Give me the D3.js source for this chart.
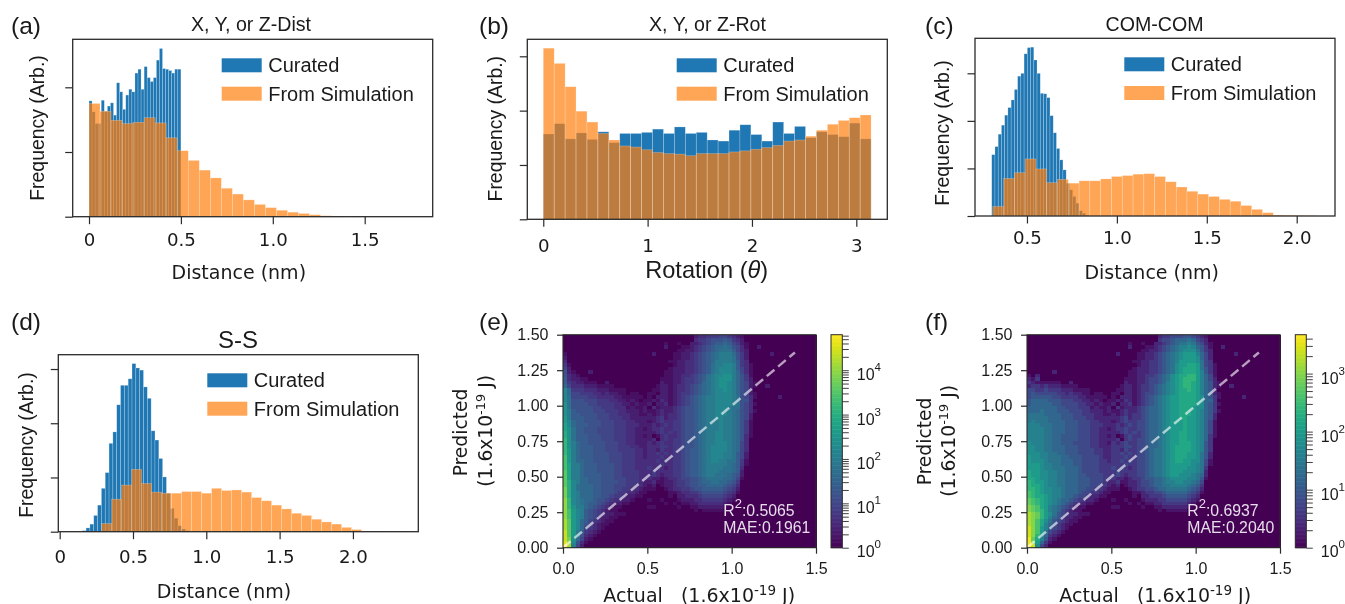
<!DOCTYPE html>
<html>
<head>
<meta charset="utf-8">
<script src="https://cdn.jsdelivr.net/npm/d3@7"></script>
<style>
html, body { margin: 0; padding: 0; background: #fff; }
svg { display: block; filter: blur(0.45px); }
text { fill: #1a1a1a; font-family: "Liberation Sans", sans-serif; white-space: pre; }
.dv { font-family: "DejaVu Sans", sans-serif; }
</style>
</head>
<body>
<svg id="fig" width="1345" height="604"></svg>
<script>
// hist values (frequency is arbitrary, one unit = one y tick)
const aCurated = [1.79,1.62,1.44,1.44,1.80,1.63,1.71,1.76,1.57,2.07,1.93,1.66,1.88,1.97,1.93,2.22,2.28,1.97,2.32,2.15,2.09,2.15,2.42,2.60,2.29,2.28,2.26,2.22,2.28,2.28];
const aSim = [1.75,1.63,1.49,1.44,1.46,1.53,1.45,1.22,1.02,0.87,0.72,0.60,0.44,0.35,0.26,0.19,0.14,0.10,0.07,0.05,0.03,0.015,0.01,0.005,0.003,0.002,0.001,0.001,0.001,0.001];
const bCurated = [1.57,1.76,1.48,1.59,1.47,1.61,1.41,1.58,1.58,1.60,1.66,1.58,1.70,1.58,1.60,1.46,1.44,1.64,1.74,1.56,1.44,1.79,1.58,1.71,1.50,1.61,1.56,1.52,1.77,1.48];
const bSim = [3.15,2.87,2.44,1.99,1.79,1.58,1.46,1.35,1.33,1.28,1.23,1.21,1.20,1.17,1.21,1.21,1.21,1.24,1.26,1.29,1.32,1.36,1.44,1.46,1.53,1.64,1.75,1.82,1.87,1.92];
const cCurated = [1.29,1.46,1.72,1.91,2.12,2.28,2.44,2.66,2.94,3.00,3.41,3.54,3.55,3.28,3.00,2.58,2.57,2.49,2.11,1.75,1.42,1.18,0.97,0.69,0.55,0.41,0.27,0.11,0.06,0.02];
const cSim = [0.20,0.79,0.91,1.20,0.99,0.70,0.77,0.69,0.74,0.74,0.78,0.83,0.85,0.88,0.89,0.83,0.72,0.61,0.52,0.46,0.41,0.35,0.31,0.22,0.14,0.07,0.02,0.015,0.01,0.005];
const dCurated = [0.02,0.07,0.14,0.30,0.49,0.80,1.09,1.63,1.84,2.34,2.70,2.70,2.82,3.10,3.02,2.98,2.67,2.46,1.86,1.69,1.35,1.01,0.71,0.43,0.25,0.11,0.05,0.02,0.006,0.003];
const dSim = [0.15,0.60,0.86,1.15,0.89,0.73,0.71,0.71,0.74,0.74,0.71,0.80,0.76,0.77,0.73,0.63,0.57,0.49,0.42,0.34,0.30,0.23,0.18,0.14,0.08,0.04,0.012,0.006,0.003,0.002];

// 2d hist cells: one base36 char per bin, count = 10^(level/5). top row first.
// left part is bins 0-19 of each row, the right part (bins 20-59) is the same in (e) and (f)
const heatLeftE = ["","","","","",
"1","2","3","41","52","6210002000","6321","73221100","7432211100 2","8533322211 1100",
"b844433322 2111100","b855444332 3221101100","b955554433 3322111110","b966655544 4332212101","c966665544 4433221211",
"c966666554 4433312112","ca76666555 4443322212","ca77666655 5443332211","da77766655 5444332222","db87766665 5544433222",
"eb87776665 5544433322","ec97766655 5544433221","fc97766655 5544433222","fc97776665 5544433221","gc97776665 5544433222",
"gca8776666 5554433222","gca8777666 5554443322","gda8777666 5554444332","gda8777666 6555444332","hda8777666 6555444332",
"hda8877666 6555444333","heaa877766 6655444333","heaa877766 6655444333","ieaa877766 6655444433","ieaa877776 6655444433",
"ieaa887776 6655544433","ifba887776 6665544432","ifb9888776 6655544332","jfb9888776 6655443321","jfba888776 6654433211",
"jfba888776 6544322110","kgba988766 5433221000","kgba987765 4322110000","kgcaa87654 3211000000","khdba76543 2110000000",
"khdba76543 2211100000","khdba76532 2110000000","lidb875432 1100000000","lidb865321 1","lidb854321",
"mida743210","mida632100","mjc8521","nkb6310","ola52"];
const heatLeftF = ["","","","","","","","","","",
"0000002000","102","213","3211111100 2","2332322211 1100",
"4433433322 2111100","4544444332 3221101100","4555554433 3322111110","5666655544 4332212101","5666665544 4433221211",
"6666666554 4433312112","6667666555 4443322212","7777666655 5443332211","7777766655 5444332222","7877766665 5544433222",
"8887776665 5544433322","8888776665 5544433221","8888776665 5544433222","8888776655 5544433221","8888776655 5544433222",
"9888776655 5444433221","9988776665 5544433222","9988776665 5544443322","9998877665 5544443322","a998877766 5554444322",
"a999877766 6554444332","aaa9887766 6554444333","aaa9887776 6654444333","baa9988776 6654444333","baa9988776 6655444433",
"bba9988776 6655544433","cbaa988776 6655544432","cbba988776 6655544332","ccba998876 6655443321","dcba998876 6654433211",
"dcbba98876 6544322110","edcba98766 5433221000","edcba98765 4322110000","fedba87654 3211000000","fedca87643 2110000000",
"gfeca97543 2211100000","gfeca86532 2110000000","gfdb975432 1100000000","gfdb865321 1","hfda864321",
"hfda743210","hfc9632100","ieb8521","ifa6310","ih942"];
const heatRight = [
"0000000000 0233444554 321","0000000000 0344566676 432","0000100100 2234567787 5421","0000200011 2345678898 6531002","0000000112 2345678999 7532",
"0200001122 3456789aaa 8642000002","0000001122 3456789aaa 9642","0000011223 345678aaaa 9743","0000001223 345679aabb a7431","0000012223 345679abbb a7531",
"0000112223 345679abbb a8531","0000112233 45679abbcc a8641","0001112234 45679abccc a8642","0002112234 45689abccb a86521","0012212334 56789abccb a865210020",
"0112212334 56789abbcb a8652","1102212344 56789abbbb a86521","1022212345 6789aabbbb a96531 0000020000","1213212345 6789aabbbb a9663","2022312345 6789aabbbb a96531",
"0312223456 6789aabbba 99653","1123223456 6789aabbba 986531","2123233456 6789aabbba 98652","2234233456 6789aabbaa 98652","1234334456 6789aaabaa 98641",
"2323434456 6789aaabaa 98641","2334334456 6789aaabaa 98641","2234343456 6789aabbaa 98641","2013433456 6789aabbaa 98631","2303434456 6789aabbaa 9863",
"3234334456 6789aabbba 9853","3334434456 6789abbbba 9853","3324334456 7789abbbba 9853","3343434456 7789abbbaa 9752","3334334456 7789abbbaa 9752",
"3343434456 7789abbaa9 9741","3334334456 7789aaaaa9 8741","4343234456 7789aaaa99 873","3433334456 7789aaa999 872","3432334456 7789aa9998 762",
"3221233455 6678999988 751","2311223445 6678899887 64","1201223445 6677888876 53","1100123344 5667777765 42","0000011233 4456666654 31",
"0000010223 3345555543 2","1001000122 2334444432 1","0000101011 2233333321","1100000100 1122222210","0000000000 0101111100",
"","","","","","","","","",""];

const histX = [
  {name: "a", xDomain: [-0.0887, 1.870], xTicks: [0, 0.5, 1, 1.5], xLabels: ["0", "0.5", "1.0", "1.5"], yTop: 2.742, yTicks: [0, 1, 2]},
  {name: "b", xDomain: [-0.153, 3.297], xTicks: [0, 1, 2, 3], xLabels: ["0", "1", "2", "3"], yTop: 3.313, yTicks: [0, 1, 2, 3]},
  {name: "c", xDomain: [0.211, 2.213], xTicks: [0.5, 1, 1.5, 2], xLabels: ["0.5", "1.0", "1.5", "2.0"], yTop: 3.736, yTicks: [0, 1, 2, 3]},
  {name: "d", xDomain: [-0.0095, 2.446], xTicks: [0, 0.5, 1, 1.5, 2], xLabels: ["0", "0.5", "1.0", "1.5", "2.0"], yTop: 3.264, yTicks: [0, 1, 2, 3]}
];

const svg = d3.select("#fig");
const blue = "#1f77b4", orange = "#ff7f0e", axisCol = "#2a2a2a";

function addText(x, y, str, size, cls, rot) {
  const t = svg.append("text").attr("x", x).attr("y", y).style("font-size", size + "px");
  if (cls) t.attr("class", cls);
  if (rot) t.attr("transform", `rotate(-90 ${x} ${y})`).attr("text-anchor", "middle");
  if (str) t.text(str);
  return t;
}

function styleAxis(g, tickSize, labelY, fontCls, fontSize) {
  g.select(".domain").remove();
  g.selectAll("line").attr("stroke", axisCol).attr("stroke-width", 1.2);
  g.selectAll("text").attr("class", fontCls).style("font-size", fontSize + "px").style("font-family", null);
  if (labelY != null) g.selectAll("text").attr("y", labelY).attr("dy", null);
}

function drawHist(cfg, box, curated, curatedBin, sim, simBin, info) {
  const x = d3.scaleLinear().domain(cfg.xDomain).range([box.left, box.right]);
  const y = d3.scaleLinear().domain([0, cfg.yTop]).range([box.bottom, box.top]);

  const drawBars = (vals, bin, col, op) => {
    svg.append("g").selectAll("rect").data(vals).enter().append("rect")
      .attr("x", (d, i) => x(bin[0] + i * bin[1]))
      .attr("y", d => y(d))
      .attr("width", x(bin[1]) - x(0))
      .attr("height", d => y(0) - y(d))
      .attr("fill", col)
      .attr("fill-opacity", op)
      .attr("stroke", "#fff")
      .attr("stroke-opacity", 0.35)
      .attr("stroke-width", 0.6);
  };
  drawBars(curated, curatedBin, blue, 1);
  drawBars(sim, simBin, orange, 0.7);

  svg.append("rect").attr("x", box.left).attr("y", box.top)
    .attr("width", box.right - box.left).attr("height", box.bottom - box.top)
    .attr("fill", "none").attr("stroke", axisCol).attr("stroke-width", 1.3);

  const xAxis = d3.axisBottom(x).tickValues(cfg.xTicks).tickFormat((d, i) => cfg.xLabels[i]).tickSize(7.5);
  svg.append("g").attr("transform", `translate(0,${box.bottom})`).call(xAxis)
    .call(g => styleAxis(g, 7.5, info.tickY - box.bottom, "dv", 18.2));
  const yAxis = d3.axisLeft(y).tickValues(cfg.yTicks).tickFormat("").tickSize(7.5);
  svg.append("g").attr("transform", `translate(${box.left},0)`).call(yAxis)
    .call(g => styleAxis(g, 7.5, null, "dv", 10));

  // legend
  const lg = info.legend;
  [["Curated", blue, 1, lg.y1], ["From Simulation", orange, 0.7, lg.y2]].forEach(r => {
    svg.append("rect").attr("x", lg.x).attr("y", r[3] - 14).attr("width", 40).attr("height", 14)
      .attr("fill", r[1]).attr("fill-opacity", r[2]);
    addText(lg.x + 46.5, r[3], r[0], 20);
  });

  addText(info.title[0], info.title[1], info.title[2], info.title[3]).attr("text-anchor", "middle");
  addText(info.ylab[0], info.ylab[1], "Frequency (Arb.)", 19.4, null, true);
  addText(info.letter[0], info.letter[1], info.letter[2], 24.5);
}

drawHist(histX[0], {left: 72.7, right: 432.7, top: 39.3, bottom: 216.7}, aCurated, [0, 0.5 / 30], aSim, [0, 0.06], {
  tickY: 246, legend: {x: 221.7, y1: 72.3, y2: 100.7},
  title: [251, 31, "X, Y, or Z-Dist", 19.6], ylab: [44.3, 128], letter: [11, 34, "(a)"]
});
addText(238.8, 279.3, "Distance (nm)", 19, "dv").attr("text-anchor", "middle");

drawHist(histX[1], {left: 527.3, right: 887.3, top: 39.3, bottom: 219.3}, bCurated, [0, Math.PI / 30], bSim, [0, Math.PI / 30], {
  tickY: 252.3, legend: {x: 676.7, y1: 72.3, y2: 100.7},
  title: [707.5, 31, "X, Y, or Z-Rot", 19.6], ylab: [501.7, 128.7], letter: [479, 34, "(b)"]
});
const rotLab = addText(706.7, 278, "", 23.6).attr("text-anchor", "middle");
rotLab.append("tspan").text("Rotation (");
rotLab.append("tspan").style("font-style", "italic").text("θ");
rotLab.append("tspan").text(")");

drawHist(histX[2], {left: 975, right: 1335, top: 38.3, bottom: 216}, cCurated, [0.304, 0.018], cSim, [0.31, 0.06], {
  tickY: 243.5, legend: {x: 1124.3, y1: 71.3, y2: 100},
  title: [1154.5, 31, "COM-COM", 19.6], ylab: [949.3, 133], letter: [925, 34, "(c)"]
});
addText(1151.7, 279, "Distance (nm)", 19, "dv").attr("text-anchor", "middle");

drawHist(histX[3], {left: 58.3, right: 418.3, top: 354.7, bottom: 531.7}, dCurated, [0.154, 0.0261], dSim, [0.286, 0.0682], {
  tickY: 563, legend: {x: 207.3, y1: 387.3, y2: 415.7},
  title: [238, 348, "S-S", 24], ylab: [33.3, 445], letter: [11, 330, "(d)"]
});
addText(224, 598, "Distance (nm)", 19, "dv").attr("text-anchor", "middle");

function heatRows(left) {
  return left.map((row, r) => {
    const l = row.replace(/ /g, "").padEnd(20, "0");
    const rr = heatRight[r].replace(/ /g, "").padEnd(40, "0");
    return Array.from(l + rr).map(ch => parseInt(ch, 36));
  });
}

function drawHeat(left, box, maxLog, decades, info) {
  const x = d3.scaleLinear().domain([0, 1.5]).range([box.left, box.right]);
  const y = d3.scaleLinear().domain([0, 1.5]).range([box.bottom, box.top]);
  const color = d3.scaleSequentialLog(d3.interpolateViridis).domain([1, Math.pow(10, maxLog)]);
  const bin = 0.025;

  const cells = [];
  heatRows(left).forEach((row, r) => row.forEach((lv, c) => {
    cells.push({x0: c * bin, y1: 1.5 - r * bin, n: Math.pow(10, lv / 5)});
  }));
  svg.append("g").attr("shape-rendering", "crispEdges").selectAll("rect").data(cells).enter().append("rect")
    .attr("x", d => x(d.x0))
    .attr("y", d => y(d.y1))
    .attr("width", x(bin) - x(0) + 0.6)
    .attr("height", y(0) - y(bin) + 0.6)
    .attr("fill", d => color(d.n));

  // guide line y = x
  svg.append("line")
    .attr("x1", x(0)).attr("y1", y(0)).attr("x2", x(1.375)).attr("y2", y(1.375))
    .attr("stroke", "#fff").attr("stroke-opacity", 0.62).attr("stroke-width", 2.5)
    .attr("stroke-dasharray", "10,4.8");

  svg.append("rect").attr("x", box.left).attr("y", box.top)
    .attr("width", box.right - box.left).attr("height", box.bottom - box.top)
    .attr("fill", "none").attr("stroke", axisCol).attr("stroke-width", 1.1);

  const xAxis = d3.axisBottom(x).tickValues([0, 0.5, 1, 1.5]).tickFormat(d3.format(".1f")).tickSize(6);
  svg.append("g").attr("transform", `translate(0,${box.bottom})`).call(xAxis)
    .call(g => styleAxis(g, 6, 26.5, "", 16));
  const yAxis = d3.axisLeft(y).tickValues([0, 0.25, 0.5, 0.75, 1, 1.25, 1.5]).tickFormat(d3.format(".2f")).tickSize(6).tickPadding(8.5);
  svg.append("g").attr("transform", `translate(${box.left},0)`).call(yAxis)
    .call(g => styleAxis(g, 6, null, "", 16));

  // R2 / MAE note
  const note = addText(info.noteX, 515.7, "", 15.8).style("fill", "#e6dcea");
  note.append("tspan").text("R");
  note.append("tspan").attr("dy", -8).style("font-size", "13px").text("2");
  note.append("tspan").attr("dy", 8).text(":" + info.r2);
  addText(info.noteX, 532.7, "MAE:" + info.mae, 15.8).style("fill", "#e6dcea");

  // colorbar
  const cb = info.cbar;
  const c = d3.scaleLog().domain([1, Math.pow(10, maxLog)]).range([box.bottom, box.top]);
  const steps = d3.range(0, 160);
  svg.append("g").selectAll("rect").data(steps).enter().append("rect")
    .attr("x", cb[0]).attr("width", cb[1] - cb[0])
    .attr("y", d => c(Math.pow(10, maxLog * (d + 1) / 160)))
    .attr("height", (box.bottom - box.top) / 160 + 0.5)
    .attr("fill", d => color(Math.pow(10, maxLog * (d + 0.5) / 160)));
  svg.append("rect").attr("x", cb[0]).attr("y", box.top).attr("width", cb[1] - cb[0]).attr("height", box.bottom - box.top)
    .attr("fill", "none").attr("stroke", axisCol).attr("stroke-width", 1);
  const cTicks = [];
  decades.forEach(p => d3.range(1, 10).forEach(k => {
    const v = k * Math.pow(10, p);
    if (v <= Math.pow(10, maxLog)) cTicks.push(v);
  }));
  const cAxis = d3.axisRight(c).tickValues(cTicks).tickFormat("").tickSize(6.5);
  svg.append("g").attr("transform", `translate(${cb[1]},0)`).call(cAxis)
    .call(g => { g.select(".domain").remove(); g.selectAll("line").attr("stroke", axisCol).attr("stroke-width", 0.9); });
  decades.forEach(p => {
    const t = addText(cb[1] + 14.5, c(Math.pow(10, p)) + (p === 0 ? 9 : 10), "", 16);
    t.append("tspan").text("10");
    t.append("tspan").attr("dy", -9).style("font-size", "11.5px").text(p);
  });

  // axis labels
  addText(info.pred[0], info.pred[1], "Predicted", 18.7, "dv", true);
  const unitY = addText(info.unit[0], info.unit[1], "", 18.7, "dv", true);
  unitY.append("tspan").text("(1.6x10");
  unitY.append("tspan").attr("dy", -7).style("font-size", "13px").text("-19");
  unitY.append("tspan").attr("dy", 7).text(" J)");
  const unitX = addText(info.actual[0], info.actual[1], "", 19, "dv");
  unitX.append("tspan").text("Actual   (1.6x10");
  unitX.append("tspan").attr("dy", -7).style("font-size", "13.5px").text("-19");
  unitX.append("tspan").attr("dy", 7).text(" J)");
  addText(info.letter[0], info.letter[1], info.letter[2], 24.5);
}

drawHeat(heatLeftE, {left: 563, right: 816, top: 334.7, bottom: 547.7}, 4.8, [0, 1, 2, 3, 4], {
  noteX: 723.3, r2: "0.5065", mae: "0.1961", cbar: [831, 842.3],
  pred: [466.7, 432.5], unit: [491.7, 430.8], actual: [603.3, 601.5], letter: [479, 330, "(e)"]
});
drawHeat(heatLeftF, {left: 1027, right: 1280, top: 334.7, bottom: 547.7}, 3.67, [0, 1, 2, 3], {
  noteX: 1187.3, r2: "0.6937", mae: "0.2040", cbar: [1295.3, 1306.3],
  pred: [930.7, 441.5], unit: [955, 440.8], actual: [1059.3, 601.5], letter: [925, 330, "(f)"]
});
</script>
</body>
</html>
